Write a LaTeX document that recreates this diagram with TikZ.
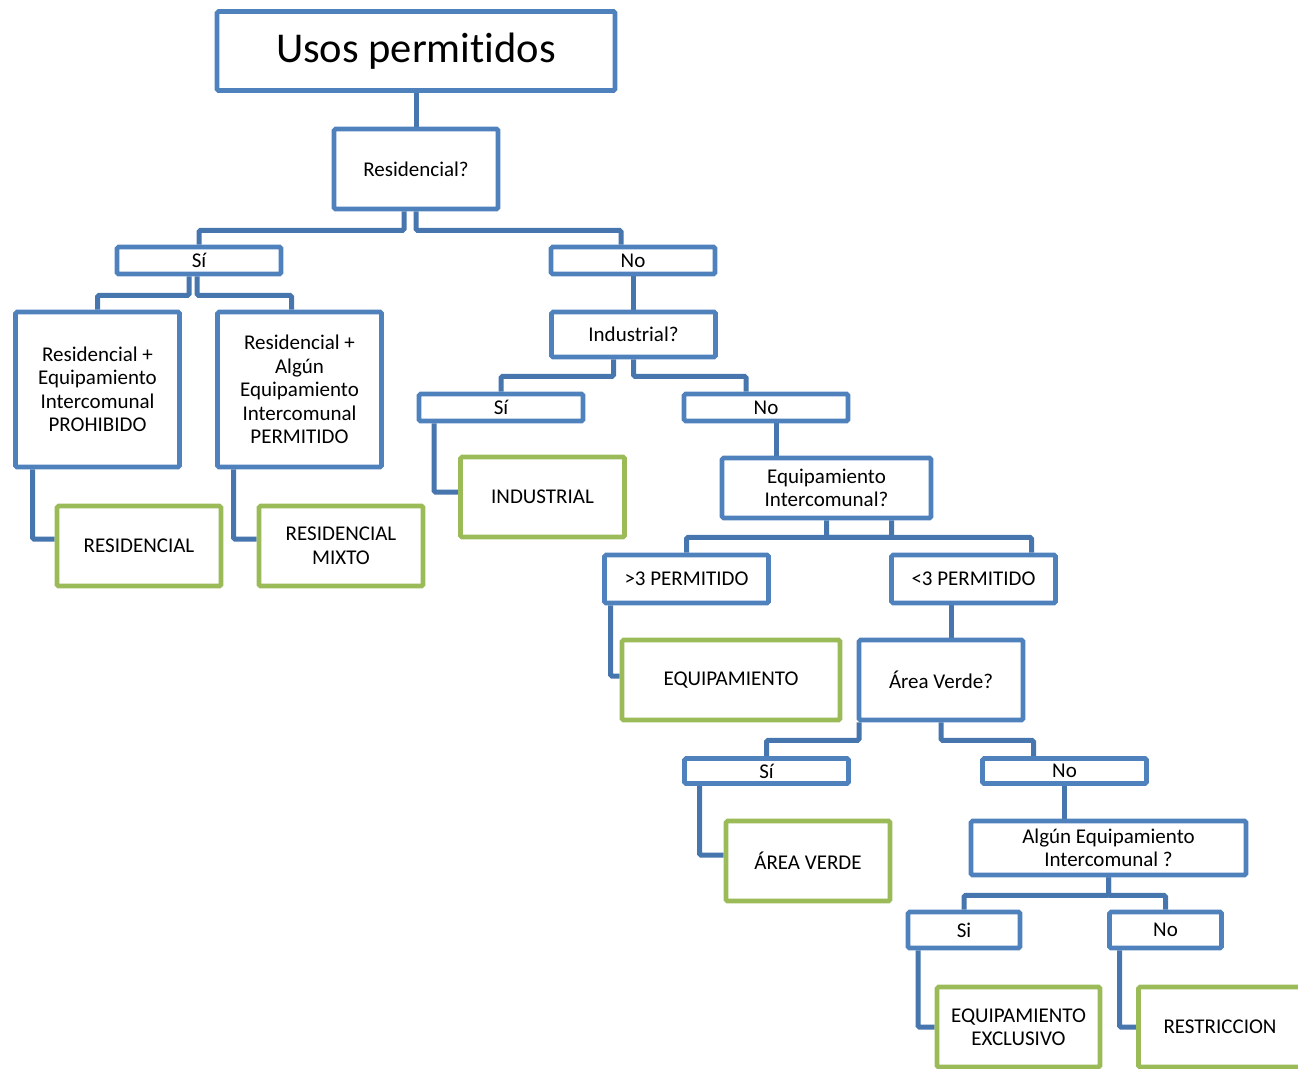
\documentclass[tikz,border=0pt]{standalone}
\usepackage{fontspec}
\setmainfont{Carlito}[Ligatures=NoCommon]
\usepackage{tikz}
\usetikzlibrary{backgrounds}

\definecolor{boxblue}{HTML}{4F81BD}
\definecolor{linkblue}{HTML}{4775AE}
\definecolor{leafgreen}{HTML}{9BBB59}

\begin{document}
\begin{tikzpicture}[x=1pt,y=-1pt,
  qbox/.style={draw=boxblue,line width=4.6pt,fill=white,rounded corners=1.5pt,inner sep=0pt,align=center,font=\fontsize{21}{23.5}\selectfont},
  leafbox/.style={qbox,draw=leafgreen},
  wh/.style 2 args={minimum width=#1pt,minimum height=#2pt},
  link/.style={draw=linkblue,line width=5pt,rounded corners=1.5pt}]
  \useasboundingbox (0,0) rectangle (1298,1068);
  \clip (0,0) rectangle (1298,1068);

  % questions and answers
  \node[qbox,wh={398}{79},font=\fontsize{42.5}{50}\selectfont] (title) at (416,51) {Usos permitidos};
  \node[qbox,wh={164}{80}] (resq) at (416,169) {Residencial?};
  \node[qbox,wh={164}{27}] (si1) at (199,260.5) {Sí};
  \node[qbox,wh={164}{27}] (no1) at (633,260.5) {No};
  \node[qbox,wh={164}{155}] (prohib) at (97.5,389.5) {Residencial +\\Equipamiento\\Intercomunal\\PROHIBIDO};
  \node[qbox,wh={164}{155}] (permit) at (299.5,389.5) {Residencial +\\Algún\\Equipamiento\\Intercomunal\\PERMITIDO};
  \node[qbox,wh={164}{45}] (indq) at (633.5,334.5) {Industrial?};
  \node[qbox,wh={164}{27}] (si2) at (501,407.5) {Sí};
  \node[qbox,wh={164}{27}] (no2) at (766,407.5) {No};
  \node[qbox,wh={209}{60}] (eqq) at (826.5,488) {Equipamiento\\Intercomunal?};
  \node[qbox,wh={164}{48}] (may3) at (686.5,579) {>3 PERMITIDO};
  \node[qbox,wh={164}{48}] (min3) at (973.5,579) {<3 PERMITIDO};
  \node[qbox,wh={164}{80}] (avq) at (941,680) {Área Verde?};
  \node[qbox,wh={164}{25}] (si3) at (766.5,771) {Sí};
  \node[qbox,wh={164}{25}] (no3) at (1064.5,771) {No};
  \node[qbox,wh={275}{54}] (algq) at (1108.5,848) {Algún Equipamiento\\Intercomunal ?};
  \node[qbox,wh={112}{36}] (si4) at (964,930) {Si};
  \node[qbox,wh={112}{36}] (no4) at (1165.5,930) {No};

  % results
  \node[leafbox,wh={164}{80}] (resid) at (139,546) {RESIDENCIAL};
  \node[leafbox,wh={164}{80}] (mixto) at (341,546) {RESIDENCIAL\\MIXTO};
  \node[leafbox,wh={164}{80}] (indus) at (542.5,497) {INDUSTRIAL};
  \node[leafbox,wh={218}{80}] (equip) at (731,680) {EQUIPAMIENTO};
  \node[leafbox,wh={164}{80}] (averde) at (808,861) {ÁREA VERDE};
  \node[leafbox,wh={163}{80}] (exclu) at (1018.5,1027) {EQUIPAMIENTO\\EXCLUSIVO};
  \node[leafbox,wh={163}{80}] (restr) at (1220,1027) {RESTRICCION};

  % connectors
  \begin{scope}[on background layer]
    \draw[link] (title.south) -- (resq.north);
    \draw[link] ([xshift=-12pt]resq.south) -- ++(0,19) -| (si1.north);
    \draw[link] (resq.south) -- ++(0,19) -| ([xshift=-12pt]no1.north);
    \draw[link] ([xshift=-10pt]si1.south) -- ++(0,19) -| (prohib.north);
    \draw[link] ([xshift=-2pt]si1.south) -- ++(0,19) -| ([xshift=-8pt]permit.north);
    \draw[link] ([xshift=-65pt]prohib.south) |- ([yshift=7pt]resid.west);
    \draw[link] ([xshift=-66pt]permit.south) |- ([yshift=7pt]mixto.west);
    \draw[link] (no1.south) -- (no1.south |- indq.north);
    \draw[link] ([xshift=-20pt]indq.south) -- ++(0,17) -| (si2.north);
    \draw[link] (indq.south) -- ++(0,17) -| ([xshift=-20pt]no2.north);
    \draw[link] ([xshift=-67pt]si2.south) |- ([yshift=5pt]indus.west);
    \draw[link] ([xshift=10pt]no2.south) -- ([xshift=10pt]no2.south |- eqq.north);
    \draw[link] ([xshift=65pt]eqq.south) -- ++(0,17) -| (may3.north);
    \draw[link] (eqq.south) -- ++(0,17) -| ([xshift=58pt]min3.north);
    \draw[link] ([xshift=-76pt]may3.south) |- ([yshift=4pt]equip.west);
    \draw[link] ([xshift=-22pt]min3.south) -- ([xshift=-22pt]min3.south |- avq.north);
    \draw[link] ([xshift=-82pt]avq.south) -- ++(0,18) -| (si3.north);
    \draw[link] (avq.south) -- ++(0,18) -| ([xshift=-31pt]no3.north);
    \draw[link] ([xshift=-67pt]si3.south) |- ([yshift=6pt]averde.west);
    \draw[link] (no3.south) -- (no3.south |- algq.north);
    \draw[link] (algq.south) -- ++(0,18) -| (si4.north);
    \draw[link] (algq.south) -- ++(0,18) -| (no4.north);
    \draw[link] ([xshift=-46pt]si4.south) |- (exclu.west);
    \draw[link] ([xshift=-46pt]no4.south) |- (restr.west);
  \end{scope}
\end{tikzpicture}
\end{document}
